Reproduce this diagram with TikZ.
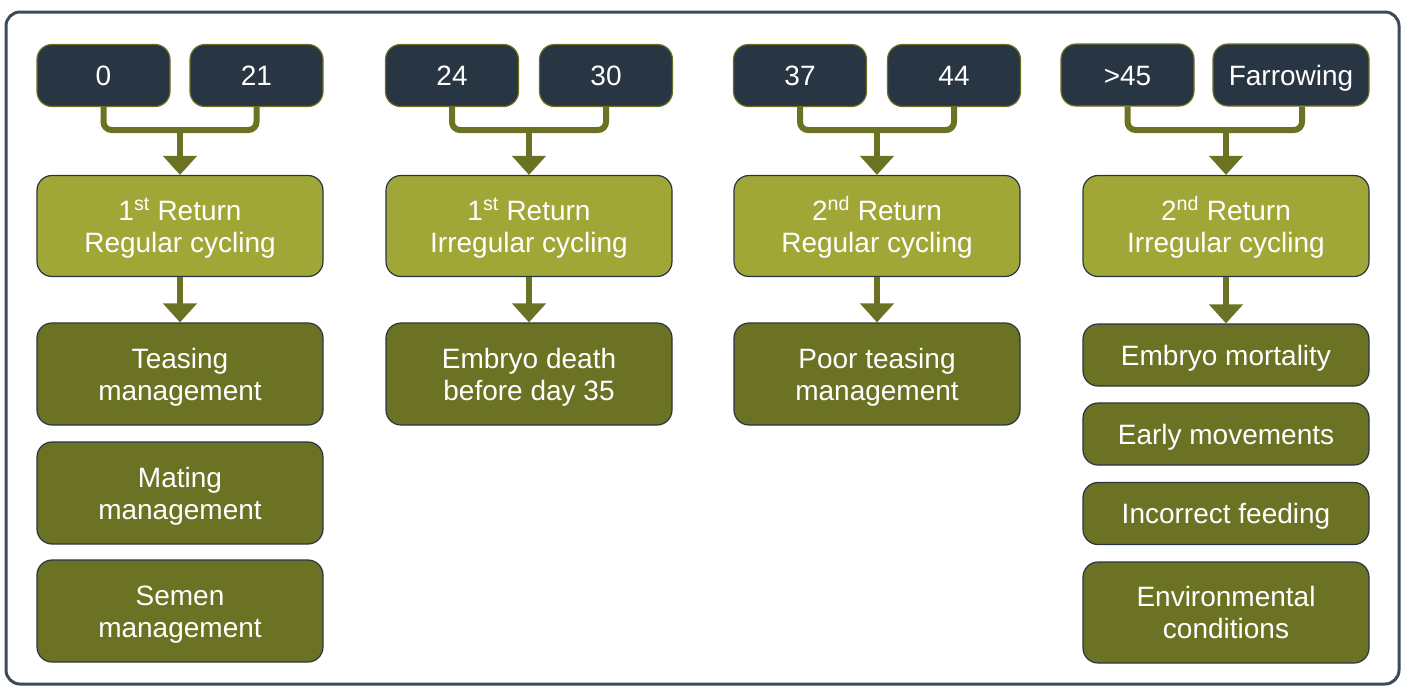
\documentclass[tikz,border=0pt]{standalone}
\usepackage{fontspec}
\setmainfont{Liberation Sans}
\usetikzlibrary{arrows.meta}

\definecolor{boardnavy}{HTML}{283543}
\definecolor{framegray}{HTML}{3E4A58}
\definecolor{leafgreen}{HTML}{A1A736}
\definecolor{mossgreen}{HTML}{6C7224}

\newcommand{\capstrut}{\rule[-6pt]{0pt}{32pt}}
\newcommand{\twolines}[2]{\capstrut#1\\#2\capstrut}

\tikzset{
  box/.style={rounded corners=15pt, align=center, text=white, line width=1.2pt,
    font=\fontsize{28}{32}\selectfont, inner sep=0pt},
  daybox/.style={box, fill=boardnavy, draw=mossgreen, minimum width=133pt, minimum height=62pt},
  returnbox/.style={box, fill=leafgreen, draw=boardnavy, minimum width=286pt, minimum height=101pt},
  causebox/.style={box, fill=mossgreen, draw=boardnavy, minimum width=286pt, minimum height=102pt},
  shortcause/.style={causebox, minimum height=62pt},
  link/.style={draw=mossgreen, line width=6pt, rounded corners=8pt},
  feed/.style={draw=mossgreen, line width=6pt, -{Triangle[width=33pt,length=19pt]}}
}

\begin{document}
\begin{tikzpicture}[x=1pt,y=-1pt]
\useasboundingbox (0,0) rectangle (1405,686);
\draw [framegray, line width=3pt, rounded corners=14pt] (6,12) rectangle (1399,684);

% first return, regular
\node [daybox] (d0) at (103.5,75.5) {\capstrut 0};
\node [daybox] (d21) at (256.5,75.5) {\capstrut 21};
\coordinate (j1) at (180,130);
\draw [link] (d0.south) |- (j1) -| (d21.south);
\node [returnbox] (r1) at (180,226) {\twolines{1\textsuperscript{st} Return}{Regular cycling}};
\draw [feed] (j1) -- (r1.north);
\node [causebox] (c11) at (180,374) {\twolines{Teasing}{management}};
\node [causebox] (c12) at (180,493) {\twolines{Mating}{management}};
\node [causebox] (c13) at (180,611) {\twolines{Semen}{management}};
\draw [feed] (r1) -- (c11);

% first return, irregular
\node [daybox] (d24) at (452,75.5) {\capstrut 24};
\node [daybox] (d30) at (606,75.5) {\capstrut 30};
\coordinate (j2) at (529,130);
\draw [link] (d24.south) |- (j2) -| (d30.south);
\node [returnbox] (r2) at (529,226) {\twolines{1\textsuperscript{st} Return}{Irregular cycling}};
\draw [feed] (j2) -- (r2.north);
\node [causebox] (c21) at (529,374) {\twolines{Embryo death}{before day 35}};
\draw [feed] (r2) -- (c21);

% second return, regular
\node [daybox] (d37) at (800,75.5) {\capstrut 37};
\node [daybox] (d44) at (954,75.5) {\capstrut 44};
\coordinate (j3) at (877,130);
\draw [link] (d37.south) |- (j3) -| (d44.south);
\node [returnbox] (r3) at (877,226) {\twolines{2\textsuperscript{nd} Return}{Regular cycling}};
\draw [feed] (j3) -- (r3.north);
\node [causebox] (c31) at (877,374) {\twolines{Poor teasing}{management}};
\draw [feed] (r3) -- (c31);

% second return, irregular
\node [daybox] (d45) at (1127.5,75) {\capstrut >45};
\node [daybox, minimum width=156pt] (dfar) at (1291,75) {\capstrut Farrowing};
\coordinate (j4) at (1226,130);
\draw [link] (d45.south) |- (j4) -| ([xshift=11pt]dfar.south);
\node [returnbox] (r4) at (1226,226) {\twolines{2\textsuperscript{nd} Return}{Irregular cycling}};
\draw [feed] (j4) -- (r4.north);
\node [shortcause] (c41) at (1226,355) {\capstrut Embryo mortality};
\node [shortcause] (c42) at (1226,434) {\capstrut Early movements};
\node [shortcause] (c43) at (1226,513.5) {\capstrut Incorrect feeding};
\node [causebox, minimum height=101pt] (c44) at (1226,612.5) {\twolines{Environmental}{conditions}};
\draw [feed] (r4) -- (c41);

\end{tikzpicture}
\end{document}
